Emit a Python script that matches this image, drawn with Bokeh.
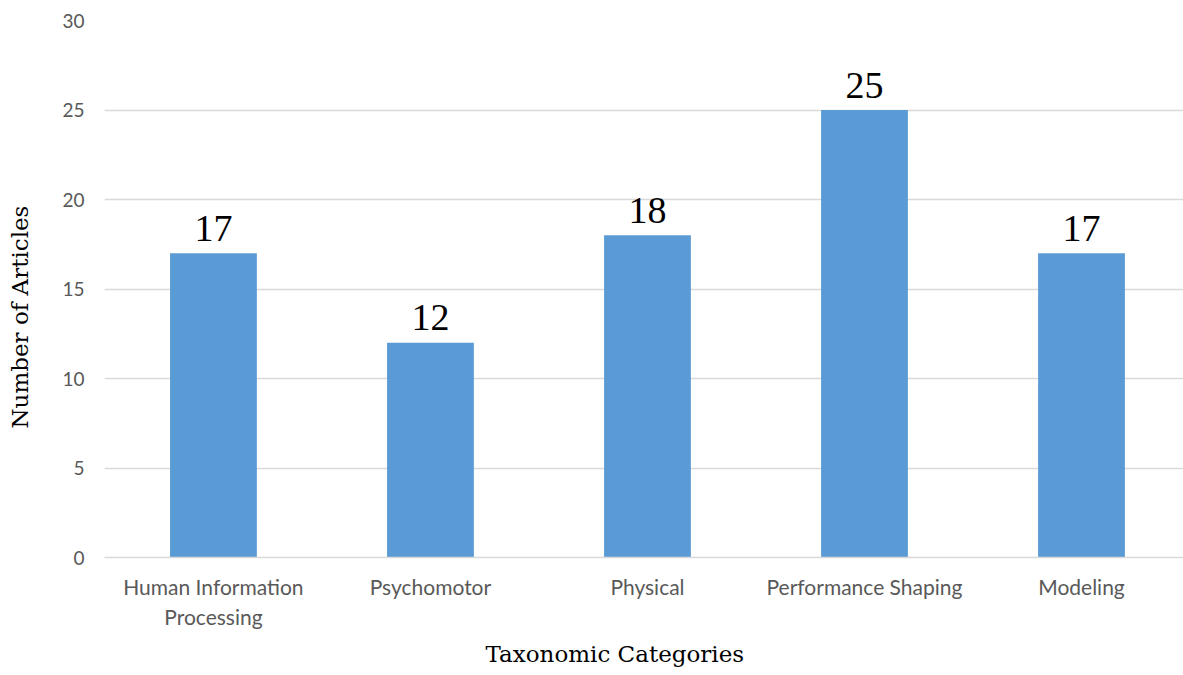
from bokeh.plotting import figure
from bokeh.models import ColumnDataSource, Range1d, FixedTicker, Title
from bokeh.core.properties import value
from bokeh.embed import file_html
from bokeh.resources import INLINE

categories = ["Human Information\nProcessing", "Psychomotor", "Physical", "Performance Shaping", "Modeling"]
counts = [17, 12, 18, 25, 17]
y_ticks = [0, 5, 10, 15, 20, 25, 30]

xs = list(range(len(categories)))
src = ColumnDataSource(dict(x=xs, y=counts, lbl=[str(c) for c in counts]))

p = figure(width=1183, height=675, output_backend="svg", toolbar_location=None,
           x_range=Range1d(-0.502, 4.47), y_range=Range1d(0, 30),
           min_border_left=104, min_border_right=0, min_border_top=20, min_border_bottom=118)
p.outline_line_color = None
p.background_fill_color = "white"
p.border_fill_color = "white"

p.vbar(x="x", top="y", width=0.4, source=src, color="#5B9BD5", line_color=None)
p.text(x="x", y="y", text="lbl", source=src, y_offset=-25, text_align="center",
       text_baseline="alphabetic", text_font=value("Liberation Serif"), text_font_size="38px",
       text_color="#000000")

# y axis
p.yaxis.ticker = FixedTicker(ticks=y_ticks)
p.yaxis.axis_line_color = None
p.yaxis.major_tick_line_color = None
p.yaxis.minor_tick_line_color = None
p.yaxis.major_label_text_font = "Lato"
p.yaxis.major_label_text_font_size = "19px"
p.yaxis.major_label_text_color = "#595959"
p.yaxis.major_label_standoff = 14
# spacer between tick labels and the axis title
p.yaxis.axis_label = " "
p.yaxis.axis_label_text_font_size = "1px"
p.yaxis.axis_label_standoff = 21

# x axis
p.xaxis.ticker = FixedTicker(ticks=xs)
p.xaxis.major_label_overrides = {i: c for i, c in zip(xs, categories)}
p.xaxis.axis_line_color = "#D9D9D9"
p.xaxis.axis_line_width = 1.5
p.xaxis.major_tick_line_color = None
p.xaxis.minor_tick_line_color = None
p.xaxis.major_label_text_font = "Lato"
p.xaxis.major_label_text_font_size = "21px"
p.xaxis.major_label_text_color = "#595959"
p.xaxis.major_label_standoff = 10

p.xgrid.grid_line_color = None
p.ygrid.grid_line_color = "#D9D9D9"
p.ygrid.grid_line_width = 1.5

# axis titles
p.add_layout(Title(text="Taxonomic Categories", align="left", offset=381, standoff=14,
                   text_font="DejaVu Serif", text_font_size="23px", text_font_style="normal",
                   text_color="#000000"), "below")
p.add_layout(Title(text="Number of Articles", align="left", offset=129, standoff=4,
                   text_font="DejaVu Serif", text_font_size="23px", text_font_style="normal",
                   text_color="#000000"), "left")

open("out.html", "w").write(file_html(p, INLINE))
